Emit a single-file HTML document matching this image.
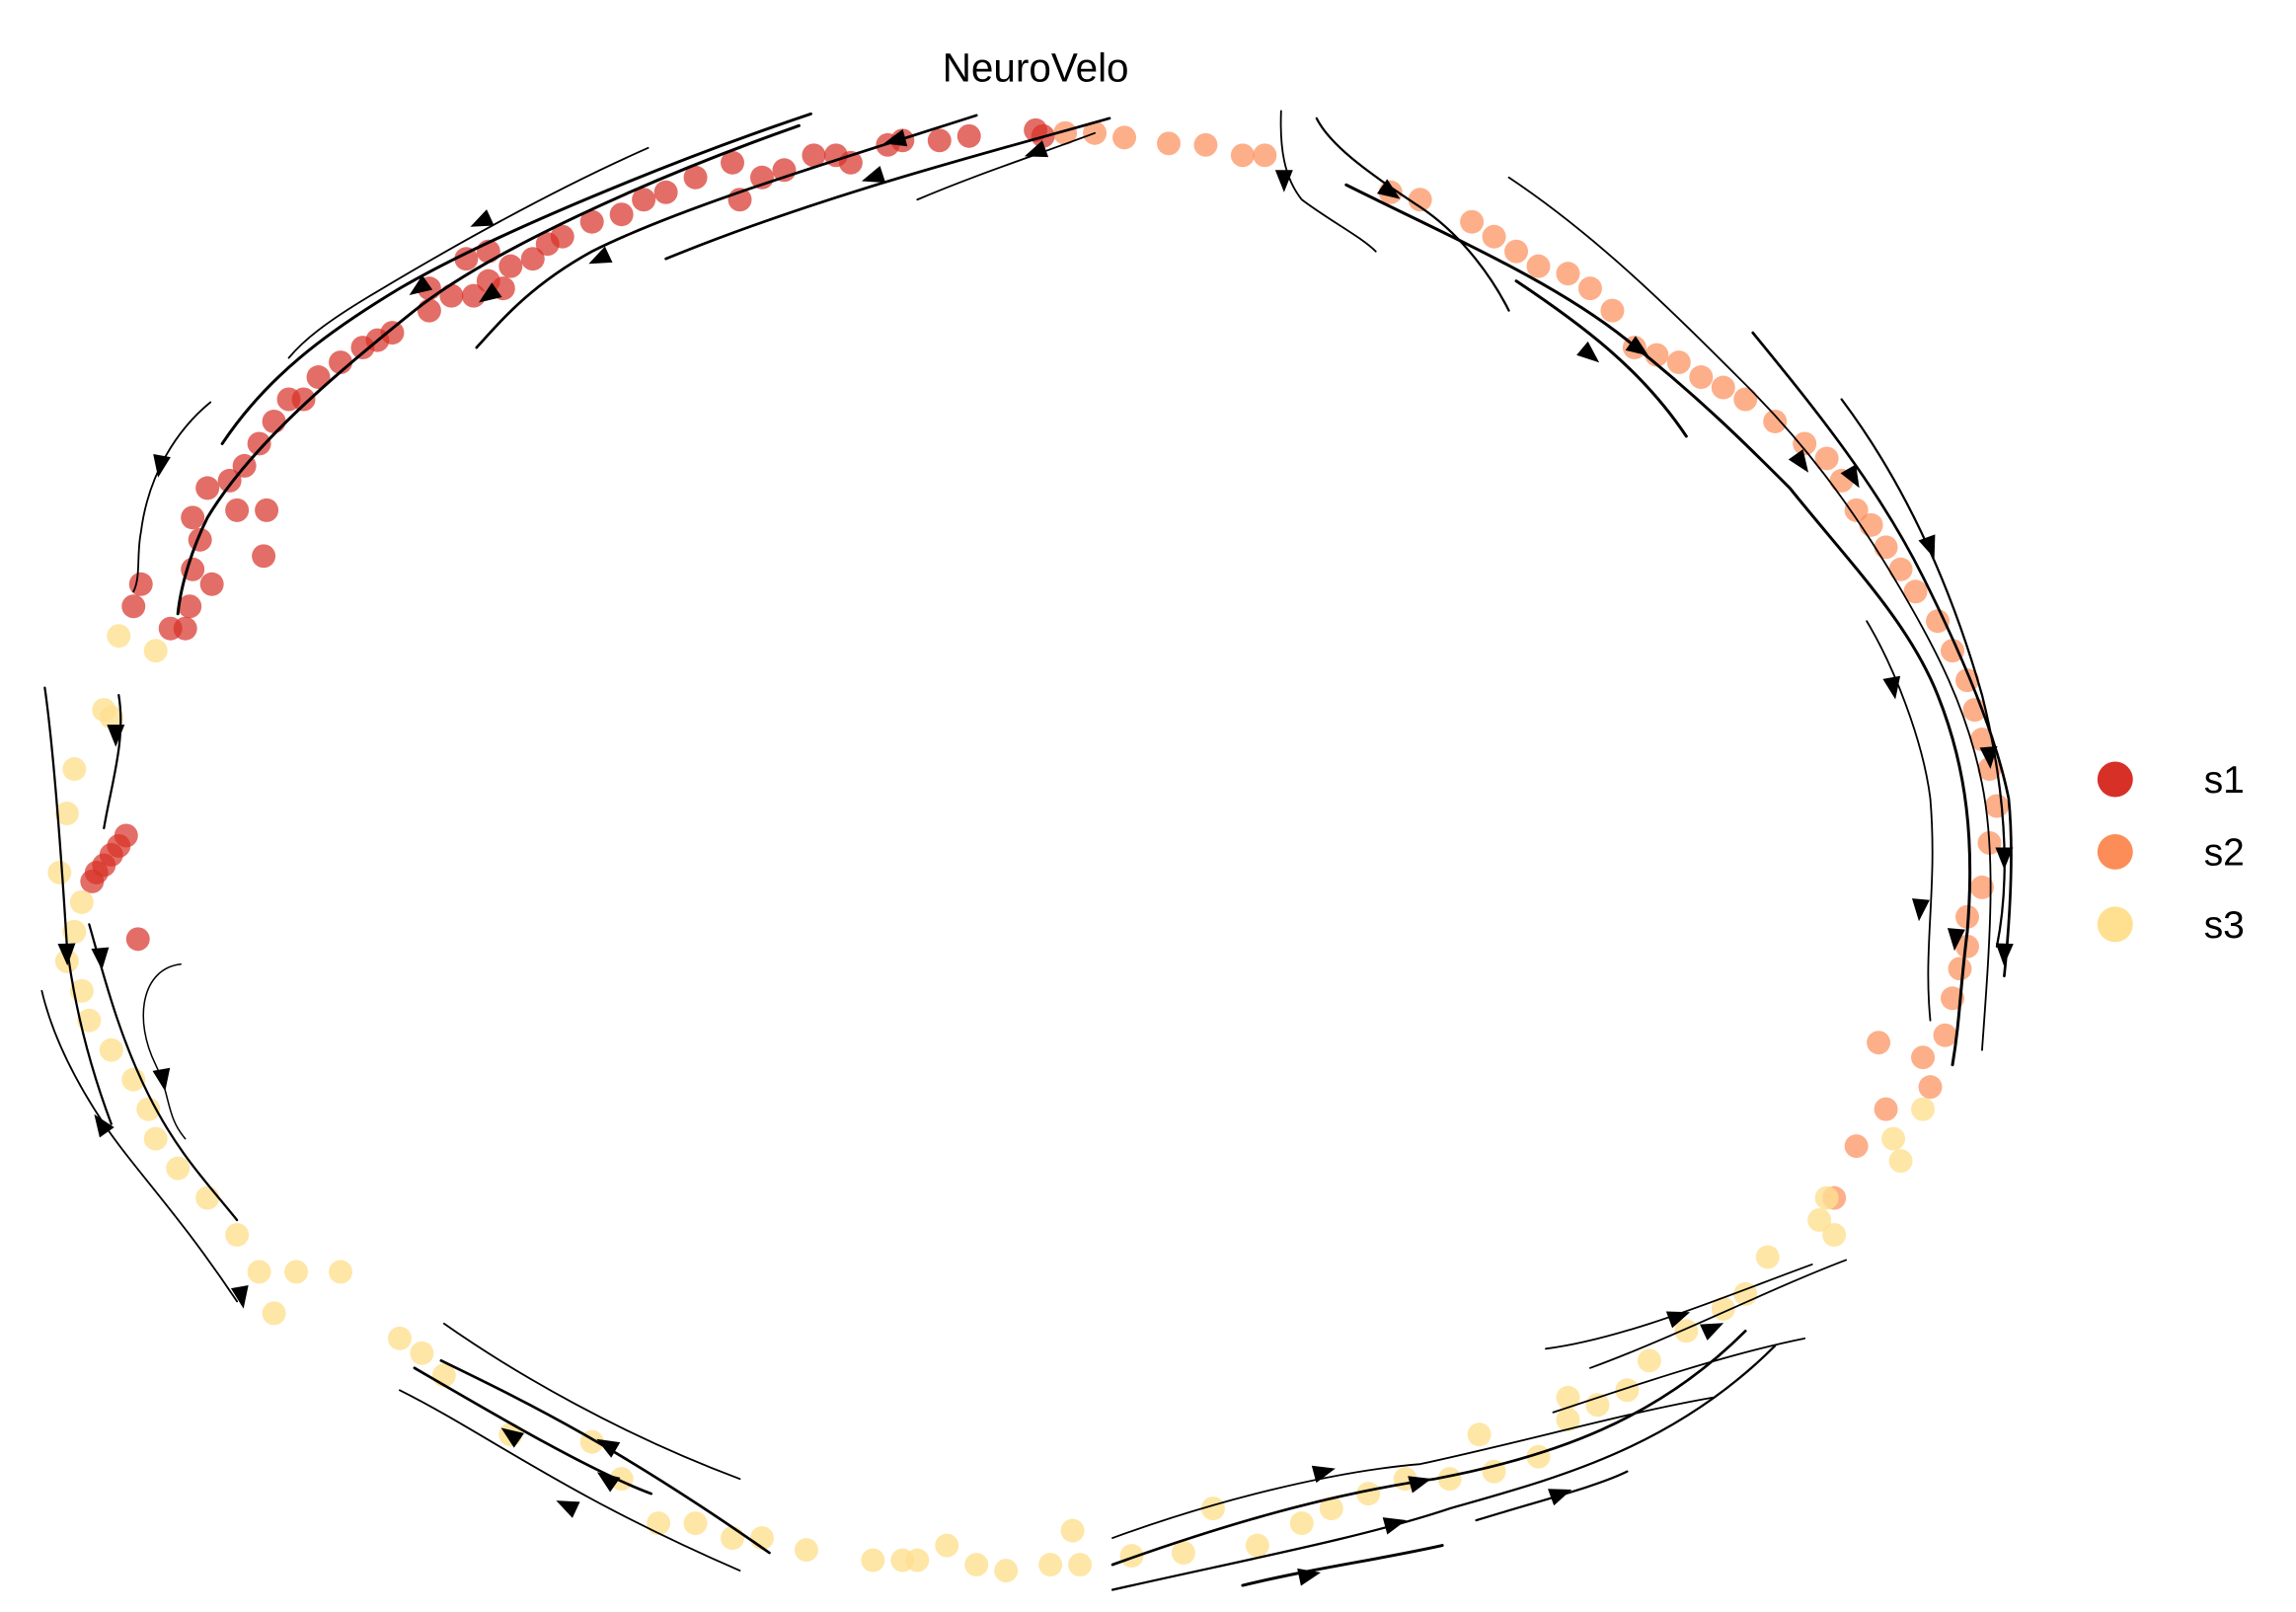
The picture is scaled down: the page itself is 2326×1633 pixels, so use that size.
<!DOCTYPE html>
<html><head><meta charset="utf-8"><style>html,body{margin:0;padding:0;background:#fff}svg{display:block}</style></head>
<body>
<svg width="2326" height="1633" viewBox="0 0 1552 1090" xmlns="http://www.w3.org/2000/svg">
<defs>
<polygon id="ar" points="8,0 -7,-6 -7,6" fill="#000"/>
</defs>
<text x="700" y="55" font-family="Liberation Sans, sans-serif" font-size="27" text-anchor="middle">NeuroVelo</text>
<g fill="#d73027" fill-opacity="0.7">
<circle cx="128" cy="410" r="8"/><circle cx="115" cy="425" r="8"/><circle cx="125" cy="425" r="8"/><circle cx="90" cy="410" r="8"/><circle cx="95" cy="395" r="8"/><circle cx="143" cy="395" r="8"/><circle cx="130" cy="385" r="8"/><circle cx="135" cy="365" r="8"/><circle cx="130" cy="350" r="8"/><circle cx="140" cy="330" r="8"/><circle cx="155" cy="325" r="8"/><circle cx="165" cy="315" r="8"/><circle cx="175" cy="300" r="8"/><circle cx="180" cy="345" r="8"/><circle cx="178" cy="376" r="8"/><circle cx="160" cy="345" r="8"/><circle cx="185" cy="285" r="8"/><circle cx="195" cy="270" r="8"/><circle cx="205" cy="270" r="8"/><circle cx="215" cy="255" r="8"/><circle cx="230" cy="245" r="8"/><circle cx="245" cy="235" r="8"/><circle cx="255" cy="230" r="8"/><circle cx="265" cy="225" r="8"/><circle cx="290" cy="210" r="8"/><circle cx="290" cy="195" r="8"/><circle cx="305" cy="200" r="8"/><circle cx="320" cy="200" r="8"/><circle cx="330" cy="190" r="8"/><circle cx="340" cy="195" r="8"/><circle cx="345" cy="180" r="8"/><circle cx="360" cy="175" r="8"/><circle cx="370" cy="165" r="8"/><circle cx="380" cy="160" r="8"/><circle cx="400" cy="150" r="8"/><circle cx="420" cy="145" r="8"/><circle cx="435" cy="135" r="8"/><circle cx="450" cy="130" r="8"/><circle cx="470" cy="120" r="8"/><circle cx="495" cy="110" r="8"/><circle cx="515" cy="120" r="8"/><circle cx="500" cy="135" r="8"/><circle cx="530" cy="115" r="8"/><circle cx="550" cy="105" r="8"/><circle cx="565" cy="105" r="8"/><circle cx="575" cy="110" r="8"/><circle cx="600" cy="98" r="8"/><circle cx="610" cy="95" r="8"/><circle cx="635" cy="95" r="8"/><circle cx="655" cy="92" r="8"/><circle cx="700" cy="88" r="8"/><circle cx="705" cy="92" r="8"/><circle cx="315" cy="175" r="8"/><circle cx="330" cy="170" r="8"/>
<circle cx="85" cy="565" r="8"/><circle cx="80" cy="572" r="8"/><circle cx="75" cy="578" r="8"/><circle cx="70" cy="585" r="8"/><circle cx="65" cy="590" r="8"/><circle cx="62" cy="596" r="8"/><circle cx="93" cy="635" r="8"/>
</g>
<g fill="#fc8d59" fill-opacity="0.7">
<circle cx="720" cy="90" r="8"/><circle cx="740" cy="90" r="8"/><circle cx="760" cy="93" r="8"/><circle cx="790" cy="97" r="8"/><circle cx="815" cy="98" r="8"/><circle cx="840" cy="105" r="8"/><circle cx="855" cy="105" r="8"/><circle cx="940" cy="130" r="8"/><circle cx="960" cy="135" r="8"/><circle cx="995" cy="150" r="8"/><circle cx="1010" cy="160" r="8"/><circle cx="1025" cy="170" r="8"/><circle cx="1040" cy="180" r="8"/><circle cx="1060" cy="185" r="8"/><circle cx="1075" cy="195" r="8"/><circle cx="1090" cy="210" r="8"/><circle cx="1105" cy="235" r="8"/><circle cx="1120" cy="240" r="8"/><circle cx="1135" cy="245" r="8"/><circle cx="1150" cy="255" r="8"/><circle cx="1165" cy="262" r="8"/><circle cx="1180" cy="270" r="8"/><circle cx="1200" cy="285" r="8"/><circle cx="1220" cy="300" r="8"/><circle cx="1235" cy="310" r="8"/><circle cx="1245" cy="325" r="8"/><circle cx="1255" cy="345" r="8"/><circle cx="1265" cy="355" r="8"/><circle cx="1275" cy="370" r="8"/><circle cx="1285" cy="385" r="8"/><circle cx="1295" cy="400" r="8"/><circle cx="1310" cy="420" r="8"/><circle cx="1320" cy="440" r="8"/><circle cx="1330" cy="460" r="8"/><circle cx="1335" cy="480" r="8"/><circle cx="1340" cy="500" r="8"/><circle cx="1345" cy="520" r="8"/><circle cx="1350" cy="545" r="8"/><circle cx="1345" cy="570" r="8"/><circle cx="1340" cy="600" r="8"/><circle cx="1330" cy="620" r="8"/><circle cx="1330" cy="640" r="8"/><circle cx="1325" cy="655" r="8"/><circle cx="1320" cy="675" r="8"/><circle cx="1315" cy="700" r="8"/><circle cx="1300" cy="715" r="8"/><circle cx="1270" cy="705" r="8"/><circle cx="1275" cy="750" r="8"/><circle cx="1255" cy="775" r="8"/><circle cx="1305" cy="735" r="8"/><circle cx="1240" cy="810" r="8"/>
</g>
<g fill="#fee090" fill-opacity="0.8">
<circle cx="80" cy="430" r="8"/><circle cx="105" cy="440" r="8"/><circle cx="70" cy="480" r="8"/><circle cx="50" cy="520" r="8"/><circle cx="45" cy="550" r="8"/><circle cx="40" cy="590" r="8"/><circle cx="55" cy="610" r="8"/><circle cx="50" cy="630" r="8"/><circle cx="45" cy="650" r="8"/><circle cx="55" cy="670" r="8"/><circle cx="60" cy="690" r="8"/><circle cx="75" cy="710" r="8"/><circle cx="90" cy="730" r="8"/><circle cx="100" cy="750" r="8"/><circle cx="105" cy="770" r="8"/><circle cx="120" cy="790" r="8"/><circle cx="140" cy="810" r="8"/><circle cx="160" cy="835" r="8"/><circle cx="175" cy="860" r="8"/><circle cx="200" cy="860" r="8"/><circle cx="230" cy="860" r="8"/><circle cx="185" cy="888" r="8"/><circle cx="270" cy="905" r="8"/><circle cx="285" cy="915" r="8"/><circle cx="300" cy="930" r="8"/><circle cx="345" cy="970" r="8"/><circle cx="400" cy="975" r="8"/><circle cx="420" cy="1000" r="8"/><circle cx="445" cy="1030" r="8"/><circle cx="470" cy="1030" r="8"/><circle cx="495" cy="1040" r="8"/><circle cx="515" cy="1040" r="8"/><circle cx="545" cy="1048" r="8"/><circle cx="590" cy="1055" r="8"/><circle cx="620" cy="1055" r="8"/><circle cx="640" cy="1045" r="8"/><circle cx="660" cy="1058" r="8"/><circle cx="680" cy="1062" r="8"/><circle cx="710" cy="1058" r="8"/><circle cx="730" cy="1058" r="8"/><circle cx="765" cy="1052" r="8"/><circle cx="800" cy="1050" r="8"/><circle cx="820" cy="1020" r="8"/><circle cx="850" cy="1045" r="8"/><circle cx="880" cy="1030" r="8"/><circle cx="900" cy="1020" r="8"/><circle cx="925" cy="1010" r="8"/><circle cx="950" cy="1000" r="8"/><circle cx="980" cy="1000" r="8"/><circle cx="1010" cy="995" r="8"/><circle cx="1040" cy="985" r="8"/><circle cx="1060" cy="960" r="8"/><circle cx="1080" cy="950" r="8"/><circle cx="1100" cy="940" r="8"/><circle cx="1115" cy="920" r="8"/><circle cx="1140" cy="900" r="8"/><circle cx="1165" cy="885" r="8"/><circle cx="1180" cy="875" r="8"/><circle cx="1195" cy="850" r="8"/><circle cx="1230" cy="825" r="8"/><circle cx="1240" cy="835" r="8"/><circle cx="1235" cy="810" r="8"/><circle cx="1280" cy="770" r="8"/><circle cx="1285" cy="785" r="8"/><circle cx="1300" cy="750" r="8"/><circle cx="725" cy="1035" r="8"/><circle cx="1000" cy="970" r="8"/><circle cx="1060" cy="945" r="8"/><circle cx="610" cy="1055" r="8"/><circle cx="75" cy="485" r="8"/>
</g>
<g fill="none" stroke="#000" stroke-linecap="round">
<path d="M548,77 C450,110 330,160 270,195 C220,225 180,255 150,300" stroke-width="2"/>
<path d="M540,85 C440,120 330,170 280,210 C230,250 170,300 140,350 C130,370 122,395 120,415" stroke-width="2"/>
<path d="M438,100 C370,130 300,170 250,200 C220,218 205,230 195,242" stroke-width="1.2"/>
<path d="M660,78 C560,110 460,140 400,170 C360,192 340,215 322,235" stroke-width="1.8"/>
<path d="M750,80 C680,100 560,130 450,175" stroke-width="1.8"/>
<path d="M740,90 C700,105 660,118 620,135" stroke-width="1.2"/>
<path d="M142,272 C120,290 100,320 95,360 C92,375 95,390 90,400" stroke-width="1.2"/>
<path d="M30,465 C35,500 40,560 45,640 C50,680 60,720 75,760" stroke-width="1.5"/>
<path d="M80,470 C85,500 75,530 70,560" stroke-width="1.5"/>
<path d="M60,625 C70,660 80,700 100,740 C120,780 140,800 160,825" stroke-width="1.5"/>
<path d="M28,670 C35,700 50,730 70,760 C90,790 120,820 160,880" stroke-width="1.2"/>
<path d="M122,652 C95,655 90,690 105,720 C115,740 112,755 125,770" stroke-width="1"/>
<path d="M866,75 C865,100 868,120 880,135 C900,150 920,160 930,170" stroke-width="1.2"/>
<path d="M890,80 C900,100 930,120 960,140 C990,160 1010,190 1020,210" stroke-width="1.5"/>
<path d="M1020,120 C1080,160 1130,210 1180,260 C1220,300 1250,340 1280,390 C1310,440 1330,480 1340,530 C1350,580 1345,640 1340,710" stroke-width="1.2"/>
<path d="M1025,190 C1070,220 1110,250 1140,295" stroke-width="2"/>
<path d="M910,125 C980,160 1050,190 1100,230 C1150,270 1180,300 1210,330 C1250,380 1290,420 1310,470 C1330,520 1335,570 1330,630 C1325,670 1325,690 1320,720" stroke-width="2"/>
<path d="M1185,225 C1230,280 1270,330 1300,390 C1330,450 1350,500 1358,540 C1362,580 1358,630 1355,660" stroke-width="1.8"/>
<path d="M1245,270 C1290,330 1320,400 1340,470 C1355,530 1360,590 1350,640" stroke-width="1.5"/>
<path d="M1262,420 C1280,450 1300,500 1305,540 C1310,600 1300,640 1305,690" stroke-width="1.2"/>
<path d="M1045,912 C1100,905 1170,875 1225,855" stroke-width="1.2"/>
<path d="M1075,925 C1130,905 1200,870 1248,852" stroke-width="1.2"/>
<path d="M1050,955 C1110,935 1170,915 1220,905" stroke-width="1.2"/>
<path d="M752,1040 C820,1015 900,995 960,990 C1030,975 1100,955 1158,945" stroke-width="1.2"/>
<path d="M752,1058 C830,1030 900,1010 970,1000 C1050,985 1120,960 1180,900" stroke-width="1.8"/>
<path d="M752,1075 C840,1055 920,1040 980,1020 C1050,1000 1130,980 1200,910" stroke-width="1.5"/>
<path d="M840,1072 C890,1060 930,1055 975,1045" stroke-width="2"/>
<path d="M998,1028 C1040,1015 1080,1005 1100,995" stroke-width="1.5"/>
<path d="M300,895 C350,930 420,970 500,1000" stroke-width="1.2"/>
<path d="M270,940 C330,970 380,1010 500,1062" stroke-width="1.2"/>
<path d="M280,925 C340,960 400,995 440,1010" stroke-width="1.8"/>
<path d="M298,920 C360,950 420,980 520,1050" stroke-width="1.8"/>
</g>
<g>
<use href="#ar" transform="translate(325,150) rotate(155)"/>
<use href="#ar" transform="translate(283,195) rotate(145)"/>
<use href="#ar" transform="translate(330,200) rotate(145)"/>
<use href="#ar" transform="translate(405,175) rotate(155)"/>
<use href="#ar" transform="translate(605,95) rotate(165)"/>
<use href="#ar" transform="translate(590,120) rotate(162)"/>
<use href="#ar" transform="translate(700,103) rotate(160)"/>
<use href="#ar" transform="translate(108,315) rotate(100)"/>
<use href="#ar" transform="translate(78,497) rotate(90)"/>
<use href="#ar" transform="translate(45,645) rotate(88)"/>
<use href="#ar" transform="translate(68,648) rotate(85)"/>
<use href="#ar" transform="translate(110,730) rotate(80)"/>
<use href="#ar" transform="translate(68,760) rotate(235)"/>
<use href="#ar" transform="translate(163,877) rotate(80)"/>
<use href="#ar" transform="translate(868,122) rotate(90)"/>
<use href="#ar" transform="translate(940,130) rotate(35)"/>
<use href="#ar" transform="translate(1075,240) rotate(40)"/>
<use href="#ar" transform="translate(1108,236) rotate(35)"/>
<use href="#ar" transform="translate(1218,313) rotate(55)"/>
<use href="#ar" transform="translate(1253,323) rotate(60)"/>
<use href="#ar" transform="translate(1305,370) rotate(70)"/>
<use href="#ar" transform="translate(1280,465) rotate(80)"/>
<use href="#ar" transform="translate(1345,512) rotate(85)"/>
<use href="#ar" transform="translate(1355,580) rotate(90)"/>
<use href="#ar" transform="translate(1355,645) rotate(92)"/>
<use href="#ar" transform="translate(1322,635) rotate(95)"/>
<use href="#ar" transform="translate(1298,615) rotate(95)"/>
<use href="#ar" transform="translate(1135,890) rotate(-20)"/>
<use href="#ar" transform="translate(1158,898) rotate(-25)"/>
<use href="#ar" transform="translate(895,995) rotate(-15)"/>
<use href="#ar" transform="translate(960,1002) rotate(-15)"/>
<use href="#ar" transform="translate(943,1030) rotate(-15)"/>
<use href="#ar" transform="translate(1055,1010) rotate(-20)"/>
<use href="#ar" transform="translate(885,1065) rotate(-12)"/>
<use href="#ar" transform="translate(410,977) rotate(210)"/>
<use href="#ar" transform="translate(345,970) rotate(215)"/>
<use href="#ar" transform="translate(410,1000) rotate(215)"/>
<use href="#ar" transform="translate(383,1018) rotate(205)"/>
</g>
<circle cx="1430" cy="527" r="12" fill="#d73027"/>
<circle cx="1430" cy="576" r="12" fill="#fc8d59"/>
<circle cx="1430" cy="625" r="12" fill="#fee090"/>
<g font-family="Liberation Sans, sans-serif" font-size="26" fill="#000">
<text x="1490" y="536">s1</text>
<text x="1490" y="585">s2</text>
<text x="1490" y="634">s3</text>
</g>
</svg>
</body></html>
